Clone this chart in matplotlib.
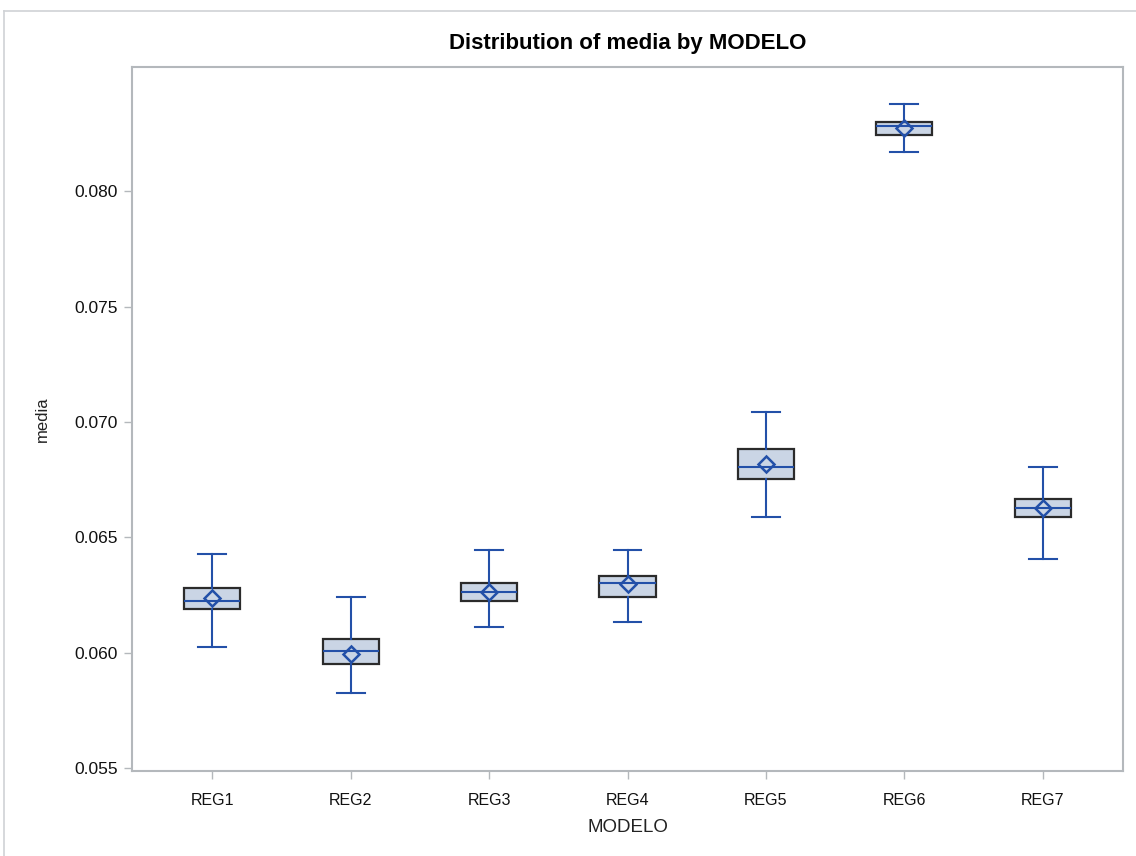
import matplotlib

matplotlib.use("Agg")
import matplotlib.pyplot as plt
from matplotlib.lines import Line2D
from matplotlib.ticker import FormatStrFormatter

# Summary statistics of "media" per model
modelos = ["REG1", "REG2", "REG3", "REG4", "REG5", "REG6", "REG7"]
whisker_low = [0.06025, 0.05826, 0.06114, 0.06135, 0.06588, 0.08172, 0.06408]
q1 = [0.06190, 0.05953, 0.06224, 0.06240, 0.06754, 0.08246, 0.06588]
median = [0.06223, 0.06008, 0.06263, 0.06301, 0.06805, 0.08285, 0.06627]
q3 = [0.06279, 0.06062, 0.06301, 0.06331, 0.06883, 0.08301, 0.06665]
whisker_high = [0.06428, 0.06244, 0.06447, 0.06447, 0.07043, 0.08378, 0.06806]
mean = [0.06237, 0.05995, 0.06265, 0.06298, 0.06818, 0.08275, 0.06628]
yticks = [0.055, 0.060, 0.065, 0.070, 0.075, 0.080]

LINE_BLUE = "#2350a8"
BOX_FILL = "#cad5e5"
FRAME_GRAY = "#b4b8bc"

plt.rcParams["font.family"] = ["Liberation Sans", "DejaVu Sans"]

fig = plt.figure(figsize=(11.36, 8.56), dpi=100)
ax = fig.add_axes([132 / 1136, 1 - 771 / 856, (1123 - 132) / 1136, (771 - 67) / 856])

stats = []
for i, name in enumerate(modelos):
    stats.append(
        dict(
            label=name,
            whislo=whisker_low[i],
            q1=q1[i],
            med=median[i],
            q3=q3[i],
            whishi=whisker_high[i],
            mean=mean[i],
            fliers=[],
        )
    )

positions = list(range(1, len(modelos) + 1))
ax.bxp(
    stats,
    positions=positions,
    widths=0.405,
    patch_artist=True,
    showmeans=True,
    showfliers=False,
    boxprops=dict(facecolor=BOX_FILL, edgecolor="#2b2b2b", linewidth=1.6),
    whiskerprops=dict(color=LINE_BLUE, linewidth=1.5),
    capprops=dict(color=LINE_BLUE, linewidth=1.5),
    medianprops=dict(color=LINE_BLUE, linewidth=1.5),
    meanprops=dict(marker="D", markerfacecolor="none", markeredgecolor=LINE_BLUE,
                   markeredgewidth=1.8, markersize=8.5),
    capwidths=0.2,
)

ax.set_xlim(0.42, 7.58)
ax.set_ylim(0.05488, 0.08539)
ax.set_yticks(yticks)
ax.yaxis.set_major_formatter(FormatStrFormatter("%.3f"))
ax.set_xticks(positions)
ax.set_xticklabels(modelos)

for spine in ax.spines.values():
    spine.set_color(FRAME_GRAY)
    spine.set_linewidth(1.5)
ax.tick_params(axis="both", colors=FRAME_GRAY, length=6, width=1.0, labelcolor="#111111")
ax.tick_params(axis="x", pad=10, labelsize=11.5)
ax.tick_params(axis="y", pad=4, labelsize=12.5)

ax.set_xlabel("MODELO", fontsize=13.5, color="#222222", labelpad=8)
ax.set_ylabel("media", fontsize=12, color="#222222", labelpad=18)
ax.set_title("Distribution of media by MODELO", fontsize=16, fontweight="bold", pad=13)

# thin outer border of the graph area
fig.add_artist(Line2D([4 / 1136, 1.0], [1 - 11 / 856, 1 - 11 / 856], color="#cfd2d5", lw=1.2))
fig.add_artist(Line2D([4 / 1136, 4 / 1136], [0.0, 1 - 11 / 856], color="#cfd2d5", lw=1.2))

fig.savefig("out.png", dpi=100)
